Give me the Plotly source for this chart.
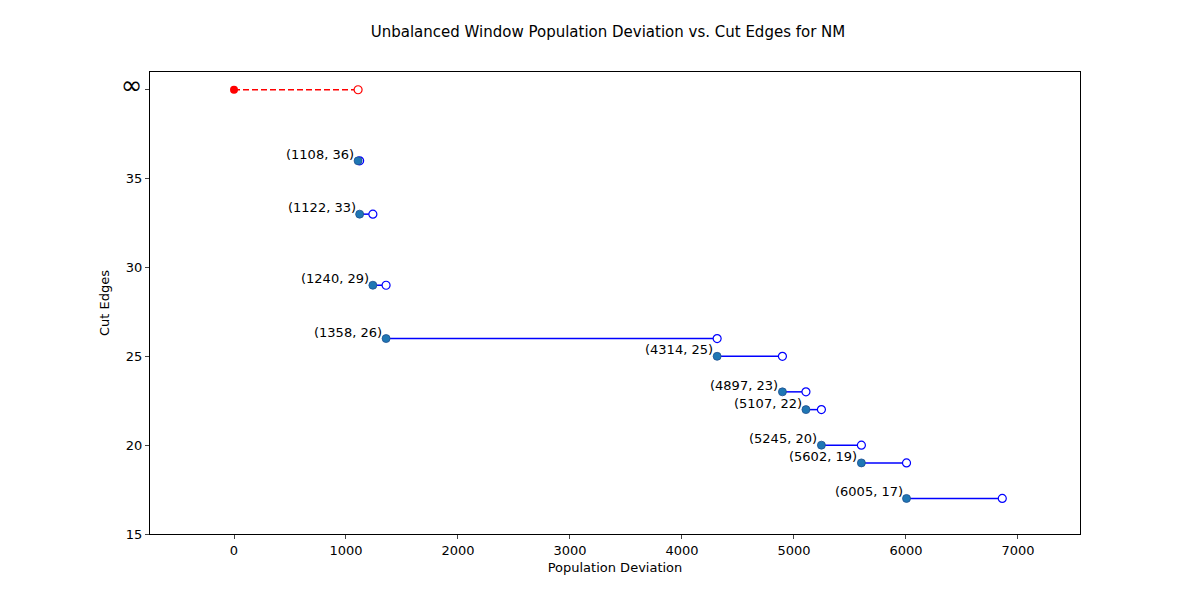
import plotly.graph_objects as go

# data
dev = [1108, 1122, 1240, 1358, 4314, 4897, 5107, 5245, 5602, 6005]
cut = [36, 33, 29, 26, 25, 23, 22, 20, 19, 17]
next_dev = [1122, 1240, 1358, 4314, 4897, 5107, 5245, 5602, 6005, 6860]
inf_y = 40
inf_start = 0
inf_end = 1108

fig = go.Figure()

# red infinite segment
fig.add_trace(go.Scatter(x=[inf_start, inf_end], y=[inf_y, inf_y], mode="lines",
                         line=dict(color="red", dash="6px,3px", width=1.5), showlegend=False))
fig.add_trace(go.Scatter(x=[inf_start], y=[inf_y], mode="markers",
                         marker=dict(color="red", size=8), showlegend=False))
fig.add_trace(go.Scatter(x=[inf_end], y=[inf_y], mode="markers",
                         marker=dict(color="white", size=8, line=dict(color="red", width=1.2)),
                         showlegend=False))

# blue steps
for x0, x1, y in zip(dev, next_dev, cut):
    fig.add_trace(go.Scatter(x=[x0, x1], y=[y, y], mode="lines",
                             line=dict(color="blue", width=1.5), showlegend=False))
fig.add_trace(go.Scatter(x=next_dev, y=cut, mode="markers",
                         marker=dict(color="white", size=8, line=dict(color="blue", width=1.2)),
                         showlegend=False))
fig.add_trace(go.Scatter(x=dev, y=cut, mode="markers",
                         marker=dict(color="#1f77b4", size=8, line=dict(color="#1f4f8f", width=0.8)),
                         showlegend=False))

for x, y in zip(dev, cut):
    fig.add_annotation(x=x, y=y, text=f"({x}, {y})", showarrow=False,
                       xanchor="right", yanchor="bottom", xshift=-2, yshift=-3,
                       font=dict(size=13, color="black"))

fig.update_layout(
    title=dict(text="Unbalanced Window Population Deviation vs. Cut Edges for NM",
               x=0.5, y=0.97, font=dict(size=15, color="black")),
    width=1200, height=600,
    margin=dict(l=142, r=128, t=64, b=74),
    plot_bgcolor="white", paper_bgcolor="white",
    font=dict(family="DejaVu Sans", size=13, color="black"),
)
fig.update_xaxes(range=[-750, 7554], tickvals=list(range(0, 8000, 1000)),
                 title=dict(text="Population Deviation", standoff=6, font=dict(size=13)),
                 showgrid=False, zeroline=False, showline=True, mirror=True,
                 linecolor="black", ticks="outside", ticklen=4)
fig.update_yaxes(range=[15, 41], tickvals=[15, 20, 25, 30, 35, inf_y],
                 ticktext=["15", "20", "25", "30", "35", "<span style='font-size:26px'>∞</span>"],
                 title=dict(text="Cut Edges", standoff=8, font=dict(size=13)),
                 showgrid=False, zeroline=False, showline=True, mirror=True,
                 linecolor="black", ticks="outside", ticklen=4)

fig.write_html("out.html")
